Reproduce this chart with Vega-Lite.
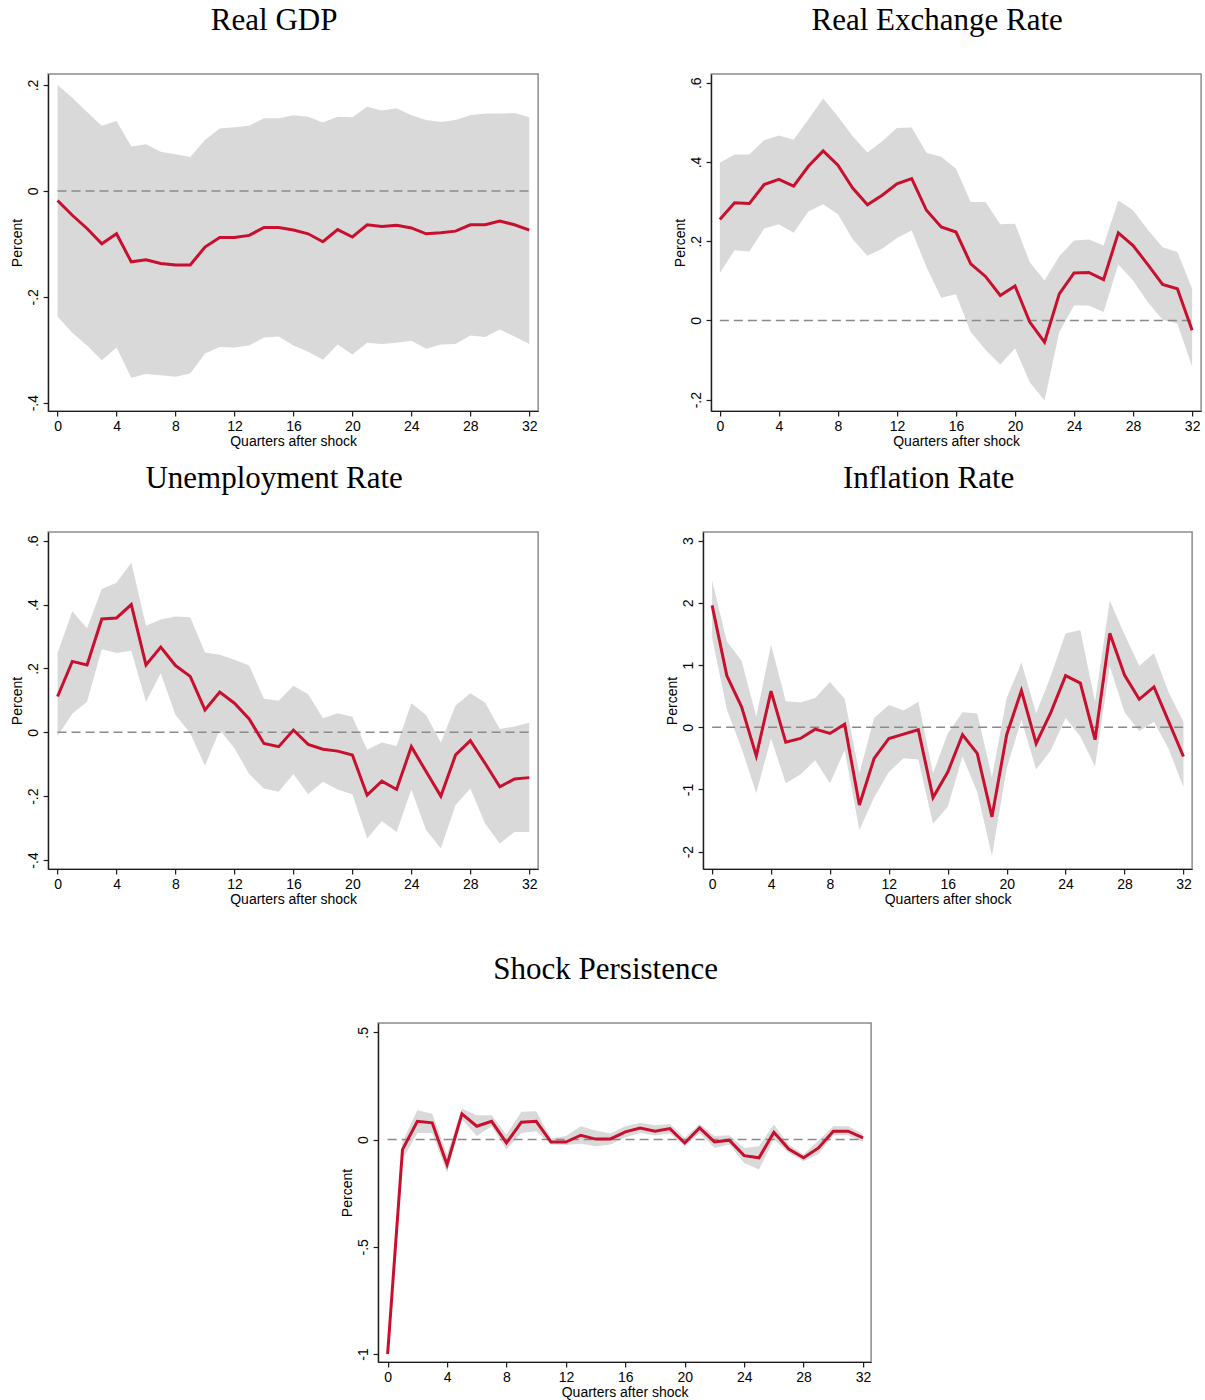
{
  "$schema": "https://vega.github.io/schema/vega-lite/v6.json",
  "padding": {"left": 9, "top": 4, "right": 0, "bottom": 0},
  "background": "white",
  "datasets": {
    "gdp": [
      {"q":0,"est":-0.018,"lo":-0.237,"hi":0.200},{"q":1,"est":-0.046,"lo":-0.268,"hi":0.176},{"q":2,"est":-0.071,"lo":-0.292,"hi":0.149},{"q":3,"est":-0.100,"lo":-0.320,"hi":0.123},{"q":4,"est":-0.081,"lo":-0.296,"hi":0.132},{"q":5,"est":-0.134,"lo":-0.353,"hi":0.084},{"q":6,"est":-0.130,"lo":-0.346,"hi":0.088},{"q":7,"est":-0.137,"lo":-0.348,"hi":0.074},{"q":8,"est":-0.140,"lo":-0.351,"hi":0.069},{"q":9,"est":-0.140,"lo":-0.345,"hi":0.064},{"q":10,"est":-0.106,"lo":-0.307,"hi":0.096},{"q":11,"est":-0.088,"lo":-0.295,"hi":0.118},{"q":12,"est":-0.088,"lo":-0.296,"hi":0.120},{"q":13,"est":-0.084,"lo":-0.292,"hi":0.123},{"q":14,"est":-0.069,"lo":-0.277,"hi":0.137},{"q":15,"est":-0.069,"lo":-0.275,"hi":0.137},{"q":16,"est":-0.074,"lo":-0.292,"hi":0.143},{"q":17,"est":-0.081,"lo":-0.304,"hi":0.140},{"q":18,"est":-0.096,"lo":-0.319,"hi":0.129},{"q":19,"est":-0.073,"lo":-0.290,"hi":0.140},{"q":20,"est":-0.087,"lo":-0.309,"hi":0.139},{"q":21,"est":-0.064,"lo":-0.287,"hi":0.159},{"q":22,"est":-0.067,"lo":-0.289,"hi":0.152},{"q":23,"est":-0.065,"lo":-0.287,"hi":0.156},{"q":24,"est":-0.070,"lo":-0.283,"hi":0.143},{"q":25,"est":-0.081,"lo":-0.298,"hi":0.134},{"q":26,"est":-0.079,"lo":-0.290,"hi":0.130},{"q":27,"est":-0.076,"lo":-0.289,"hi":0.134},{"q":28,"est":-0.064,"lo":-0.273,"hi":0.143},{"q":29,"est":-0.064,"lo":-0.276,"hi":0.146},{"q":30,"est":-0.057,"lo":-0.262,"hi":0.146},{"q":31,"est":-0.064,"lo":-0.275,"hi":0.147},{"q":32,"est":-0.074,"lo":-0.289,"hi":0.139}
    ],
    "rer": [
      {"q":0,"est":0.255,"lo":0.120,"hi":0.398},{"q":1,"est":0.297,"lo":0.177,"hi":0.419},{"q":2,"est":0.295,"lo":0.174,"hi":0.419},{"q":3,"est":0.343,"lo":0.232,"hi":0.455},{"q":4,"est":0.356,"lo":0.243,"hi":0.467},{"q":5,"est":0.339,"lo":0.221,"hi":0.456},{"q":6,"est":0.389,"lo":0.275,"hi":0.507},{"q":7,"est":0.428,"lo":0.293,"hi":0.560},{"q":8,"est":0.392,"lo":0.268,"hi":0.515},{"q":9,"est":0.334,"lo":0.205,"hi":0.465},{"q":10,"est":0.292,"lo":0.163,"hi":0.424},{"q":11,"est":0.316,"lo":0.181,"hi":0.452},{"q":12,"est":0.345,"lo":0.208,"hi":0.486},{"q":13,"est":0.358,"lo":0.227,"hi":0.487},{"q":14,"est":0.278,"lo":0.135,"hi":0.423},{"q":15,"est":0.236,"lo":0.057,"hi":0.413},{"q":16,"est":0.223,"lo":0.066,"hi":0.383},{"q":17,"est":0.143,"lo":-0.029,"hi":0.299},{"q":18,"est":0.111,"lo":-0.074,"hi":0.299},{"q":19,"est":0.063,"lo":-0.111,"hi":0.243},{"q":20,"est":0.087,"lo":-0.070,"hi":0.244},{"q":21,"est":-0.004,"lo":-0.156,"hi":0.147},{"q":22,"est":-0.055,"lo":-0.202,"hi":0.101},{"q":23,"est":0.067,"lo":-0.029,"hi":0.162},{"q":24,"est":0.120,"lo":0.038,"hi":0.202},{"q":25,"est":0.121,"lo":0.038,"hi":0.204},{"q":26,"est":0.103,"lo":0.021,"hi":0.189},{"q":27,"est":0.221,"lo":0.141,"hi":0.303},{"q":28,"est":0.189,"lo":0.101,"hi":0.278},{"q":29,"est":0.141,"lo":0.046,"hi":0.229},{"q":30,"est":0.091,"lo":0.002,"hi":0.185},{"q":31,"est":0.080,"lo":-0.008,"hi":0.173},{"q":32,"est":-0.025,"lo":-0.116,"hi":0.080}
    ],
    "unemp": [
      {"q":0,"est":0.112,"lo":-0.012,"hi":0.248},{"q":1,"est":0.222,"lo":0.058,"hi":0.379},{"q":2,"est":0.211,"lo":0.096,"hi":0.326},{"q":3,"est":0.355,"lo":0.260,"hi":0.449},{"q":4,"est":0.358,"lo":0.248,"hi":0.468},{"q":5,"est":0.400,"lo":0.255,"hi":0.532},{"q":6,"est":0.211,"lo":0.096,"hi":0.334},{"q":7,"est":0.267,"lo":0.185,"hi":0.353},{"q":8,"est":0.209,"lo":0.054,"hi":0.363},{"q":9,"est":0.175,"lo":-0.003,"hi":0.360},{"q":10,"est":0.070,"lo":-0.105,"hi":0.250},{"q":11,"est":0.126,"lo":0.007,"hi":0.243},{"q":12,"est":0.091,"lo":-0.050,"hi":0.227},{"q":13,"est":0.042,"lo":-0.131,"hi":0.209},{"q":14,"est":-0.035,"lo":-0.176,"hi":0.105},{"q":15,"est":-0.045,"lo":-0.186,"hi":0.099},{"q":16,"est":0.007,"lo":-0.131,"hi":0.146},{"q":17,"est":-0.038,"lo":-0.194,"hi":0.119},{"q":18,"est":-0.053,"lo":-0.155,"hi":0.044},{"q":19,"est":-0.059,"lo":-0.179,"hi":0.060},{"q":20,"est":-0.071,"lo":-0.194,"hi":0.049},{"q":21,"est":-0.197,"lo":-0.333,"hi":-0.055},{"q":22,"est":-0.153,"lo":-0.278,"hi":-0.032},{"q":23,"est":-0.179,"lo":-0.312,"hi":-0.043},{"q":24,"est":-0.045,"lo":-0.179,"hi":0.091},{"q":25,"est":-0.123,"lo":-0.306,"hi":0.054},{"q":26,"est":-0.200,"lo":-0.364,"hi":-0.032},{"q":27,"est":-0.071,"lo":-0.228,"hi":0.084},{"q":28,"est":-0.026,"lo":-0.176,"hi":0.122},{"q":29,"est":-0.097,"lo":-0.286,"hi":0.093},{"q":30,"est":-0.171,"lo":-0.348,"hi":0.010},{"q":31,"est":-0.146,"lo":-0.312,"hi":0.018},{"q":32,"est":-0.142,"lo":-0.312,"hi":0.030}
    ],
    "infl": [
      {"q":0,"est":1.96,"lo":1.44,"hi":2.36},{"q":1,"est":0.83,"lo":0.29,"hi":1.38},{"q":2,"est":0.33,"lo":-0.34,"hi":1.07},{"q":3,"est":-0.46,"lo":-1.06,"hi":0.17},{"q":4,"est":0.58,"lo":-0.18,"hi":1.33},{"q":5,"est":-0.24,"lo":-0.90,"hi":0.42},{"q":6,"est":-0.18,"lo":-0.76,"hi":0.40},{"q":7,"est":-0.03,"lo":-0.53,"hi":0.47},{"q":8,"est":-0.10,"lo":-0.90,"hi":0.73},{"q":9,"est":0.05,"lo":-0.37,"hi":0.46},{"q":10,"est":-1.25,"lo":-1.65,"hi":-0.74},{"q":11,"est":-0.50,"lo":-1.13,"hi":0.15},{"q":12,"est":-0.18,"lo":-0.72,"hi":0.36},{"q":13,"est":-0.11,"lo":-0.50,"hi":0.27},{"q":14,"est":-0.04,"lo":-0.52,"hi":0.41},{"q":15,"est":-1.13,"lo":-1.55,"hi":-0.74},{"q":16,"est":-0.72,"lo":-1.28,"hi":-0.10},{"q":17,"est":-0.12,"lo":-0.47,"hi":0.24},{"q":18,"est":-0.42,"lo":-1.04,"hi":0.22},{"q":19,"est":-1.44,"lo":-2.07,"hi":-0.80},{"q":20,"est":-0.12,"lo":-0.66,"hi":0.47},{"q":21,"est":0.59,"lo":0.12,"hi":1.04},{"q":22,"est":-0.26,"lo":-0.68,"hi":0.22},{"q":23,"est":0.24,"lo":-0.37,"hi":0.83},{"q":24,"est":0.83,"lo":0.15,"hi":1.51},{"q":25,"est":0.71,"lo":-0.15,"hi":1.56},{"q":26,"est":-0.20,"lo":-0.63,"hi":0.41},{"q":27,"est":1.51,"lo":0.98,"hi":2.04},{"q":28,"est":0.84,"lo":0.24,"hi":1.49},{"q":29,"est":0.45,"lo":-0.06,"hi":0.99},{"q":30,"est":0.65,"lo":0.09,"hi":1.19},{"q":31,"est":0.09,"lo":-0.35,"hi":0.56},{"q":32,"est":-0.47,"lo":-0.96,"hi":0.09}
    ],
    "shock": [
      {"q":0,"est":-1.000,"lo":-1.000,"hi":-1.000},{"q":1,"est":-0.047,"lo":-0.093,"hi":-0.010},{"q":2,"est":0.085,"lo":0.031,"hi":0.137},{"q":3,"est":0.078,"lo":0.031,"hi":0.120},{"q":4,"est":-0.117,"lo":-0.155,"hi":-0.070},{"q":5,"est":0.120,"lo":0.093,"hi":0.145},{"q":6,"est":0.062,"lo":0.016,"hi":0.113},{"q":7,"est":0.085,"lo":0.062,"hi":0.113},{"q":8,"est":-0.016,"lo":-0.047,"hi":0.023},{"q":9,"est":0.081,"lo":0.031,"hi":0.129},{"q":10,"est":0.085,"lo":0.039,"hi":0.132},{"q":11,"est":-0.012,"lo":-0.023,"hi":0.005},{"q":12,"est":-0.012,"lo":-0.026,"hi":0.016},{"q":13,"est":0.020,"lo":-0.020,"hi":0.062},{"q":14,"est":0.002,"lo":-0.031,"hi":0.042},{"q":15,"est":0.003,"lo":-0.023,"hi":0.028},{"q":16,"est":0.036,"lo":0.011,"hi":0.062},{"q":17,"est":0.054,"lo":0.031,"hi":0.078},{"q":18,"est":0.039,"lo":0.019,"hi":0.067},{"q":19,"est":0.051,"lo":0.028,"hi":0.073},{"q":20,"est":-0.016,"lo":-0.031,"hi":0.008},{"q":21,"est":0.054,"lo":0.031,"hi":0.073},{"q":22,"est":-0.011,"lo":-0.039,"hi":0.016},{"q":23,"est":-0.003,"lo":-0.023,"hi":0.020},{"q":24,"est":-0.075,"lo":-0.109,"hi":-0.039},{"q":25,"est":-0.085,"lo":-0.140,"hi":-0.031},{"q":26,"est":0.034,"lo":0.000,"hi":0.070},{"q":27,"est":-0.044,"lo":-0.062,"hi":-0.023},{"q":28,"est":-0.085,"lo":-0.101,"hi":-0.070},{"q":29,"est":-0.039,"lo":-0.067,"hi":-0.005},{"q":30,"est":0.039,"lo":0.020,"hi":0.062},{"q":31,"est":0.039,"lo":0.020,"hi":0.062},{"q":32,"est":0.008,"lo":-0.011,"hi":0.026}
    ]
  },
  "config": {
    "view": {"stroke": "#8c8c8c", "strokeWidth": 1.5},
    "axis": {"domainColor": "#1a1a1a", "tickColor": "#1a1a1a", "labelFont": "Liberation Sans", "titleFont": "Liberation Sans", "labelFontSize": 14, "titleFontSize": 14, "titleFontWeight": "normal", "labelColor": "#000", "titleColor": "#000", "grid": false, "tickSize": 5, "domainWidth": 1.2, "tickWidth": 1.2, "labelFlush": false, "labelOverlap": false},
    "axisY": {"labelAngle": -90, "labelAlign": "center", "labelBaseline": "bottom", "labelPadding": 3, "titlePadding": 2},
    "axisX": {"labelAngle": 0, "labelPadding": 3, "titlePadding": 1},
    "title": {"font": "Liberation Serif", "fontSize": 31, "fontWeight": "normal", "color": "#000", "frame": "bounds", "anchor": "middle", "baseline": "alphabetic", "offset": 37}
  },
  "spacing": 46,
  "center": true,
  "vconcat": [
    {
      "spacing": 13,
      "vconcat": [
        {
          "spacing": 133,
          "hconcat": [
            {
              "title": "Real GDP", "width": 490, "height": 337,
              "data": {"name": "gdp"},
              "encoding": {
                "x": {"field": "q", "type": "quantitative", "scale": {"domain": [-0.64, 32.6], "nice": false, "zero": false}, "axis": {"title": "Quarters after shock", "values": [0,4,8,12,16,20,24,28,32]}}
              },
              "layer": [
                {"mark": {"type": "area", "color": "#d9d9d9", "opacity": 1}, "encoding": {"y": {"field": "lo", "type": "quantitative", "scale": {"domain": [-0.4157, 0.2208], "nice": false, "zero": false}, "axis": {"title": "Percent", "values": [-0.4,-0.2,0,0.2], "labelExpr": "replace(toString(datum.value), '0.', '.')"}}, "y2": {"field": "hi"}}},
                {"mark": {"type": "line", "color": "#8a8a8a", "strokeWidth": 1.5, "strokeDash": [9, 5]}, "encoding": {"y": {"datum": 0}}},
                {"mark": {"type": "line", "color": "#c8102e", "strokeWidth": 3}, "encoding": {"y": {"field": "est", "type": "quantitative"}}}
              ]
            },
            {
              "title": "Real Exchange Rate", "width": 490, "height": 337,
              "data": {"name": "rer"},
              "encoding": {
                "x": {"field": "q", "type": "quantitative", "scale": {"domain": [-0.59, 32.61], "nice": false, "zero": false}, "axis": {"title": "Quarters after shock", "values": [0,4,8,12,16,20,24,28,32]}}
              },
              "layer": [
                {"mark": {"type": "area", "color": "#d9d9d9", "opacity": 1}, "encoding": {"y": {"field": "lo", "type": "quantitative", "scale": {"domain": [-0.2286, 0.622], "nice": false, "zero": false}, "axis": {"title": "Percent", "values": [-0.2,0,0.2,0.4,0.6], "labelExpr": "replace(toString(datum.value), '0.', '.')"}}, "y2": {"field": "hi"}}},
                {"mark": {"type": "line", "color": "#8a8a8a", "strokeWidth": 1.5, "strokeDash": [9, 5]}, "encoding": {"y": {"datum": 0}}},
                {"mark": {"type": "line", "color": "#c8102e", "strokeWidth": 3}, "encoding": {"y": {"field": "est", "type": "quantitative"}}}
              ]
            }
          ]
        },
        {
          "spacing": 125,
          "hconcat": [
            {
              "title": "Unemployment Rate", "width": 490, "height": 337,
              "data": {"name": "unemp"},
              "encoding": {
                "x": {"field": "q", "type": "quantitative", "scale": {"domain": [-0.64, 32.6], "nice": false, "zero": false}, "axis": {"title": "Quarters after shock", "values": [0,4,8,12,16,20,24,28,32]}}
              },
              "layer": [
                {"mark": {"type": "area", "color": "#d9d9d9", "opacity": 1}, "encoding": {"y": {"field": "lo", "type": "quantitative", "scale": {"domain": [-0.4282, 0.6273], "nice": false, "zero": false}, "axis": {"title": "Percent", "values": [-0.4,-0.2,0,0.2,0.4,0.6], "labelExpr": "replace(toString(datum.value), '0.', '.')"}}, "y2": {"field": "hi"}}},
                {"mark": {"type": "line", "color": "#8a8a8a", "strokeWidth": 1.5, "strokeDash": [9, 5]}, "encoding": {"y": {"datum": 0}}},
                {"mark": {"type": "line", "color": "#c8102e", "strokeWidth": 3}, "encoding": {"y": {"field": "est", "type": "quantitative"}}}
              ]
            },
            {
              "title": "Inflation Rate", "width": 489, "height": 337,
              "data": {"name": "infl"},
              "encoding": {
                "x": {"field": "q", "type": "quantitative", "scale": {"domain": [-0.61, 32.59], "nice": false, "zero": false}, "axis": {"title": "Quarters after shock", "values": [0,4,8,12,16,20,24,28,32]}}
              },
              "layer": [
                {"mark": {"type": "area", "color": "#d9d9d9", "opacity": 1}, "encoding": {"y": {"field": "lo", "type": "quantitative", "scale": {"domain": [-2.279, 3.14], "nice": false, "zero": false}, "axis": {"title": "Percent", "values": [-2,-1,0,1,2,3], "labelExpr": "replace(toString(datum.value), '0.', '.')"}}, "y2": {"field": "hi"}}},
                {"mark": {"type": "line", "color": "#8a8a8a", "strokeWidth": 1.5, "strokeDash": [9, 5]}, "encoding": {"y": {"datum": 0}}},
                {"mark": {"type": "line", "color": "#c8102e", "strokeWidth": 3}, "encoding": {"y": {"field": "est", "type": "quantitative"}}}
              ]
            }
          ]
        }
      ]
    },
    {
      "title": "Shock Persistence", "width": 493, "height": 339,
      "data": {"name": "shock"},
      "encoding": {
        "x": {"field": "q", "type": "quantitative", "scale": {"domain": [-0.64, 32.545], "nice": false, "zero": false}, "axis": {"title": "Quarters after shock", "values": [0,4,8,12,16,20,24,28,32]}}
      },
      "layer": [
        {"mark": {"type": "area", "color": "#d9d9d9", "opacity": 1}, "encoding": {"y": {"field": "lo", "type": "quantitative", "scale": {"domain": [-1.0373, 0.5434], "nice": false, "zero": false}, "axis": {"title": "Percent", "values": [-1,-0.5,0,0.5], "labelExpr": "replace(toString(datum.value), '0.', '.')"}}, "y2": {"field": "hi"}}},
        {"mark": {"type": "line", "color": "#8a8a8a", "strokeWidth": 1.5, "strokeDash": [9, 5]}, "encoding": {"y": {"datum": 0}}},
        {"mark": {"type": "line", "color": "#c8102e", "strokeWidth": 3}, "encoding": {"y": {"field": "est", "type": "quantitative"}}}
      ]
    }
  ]
}
